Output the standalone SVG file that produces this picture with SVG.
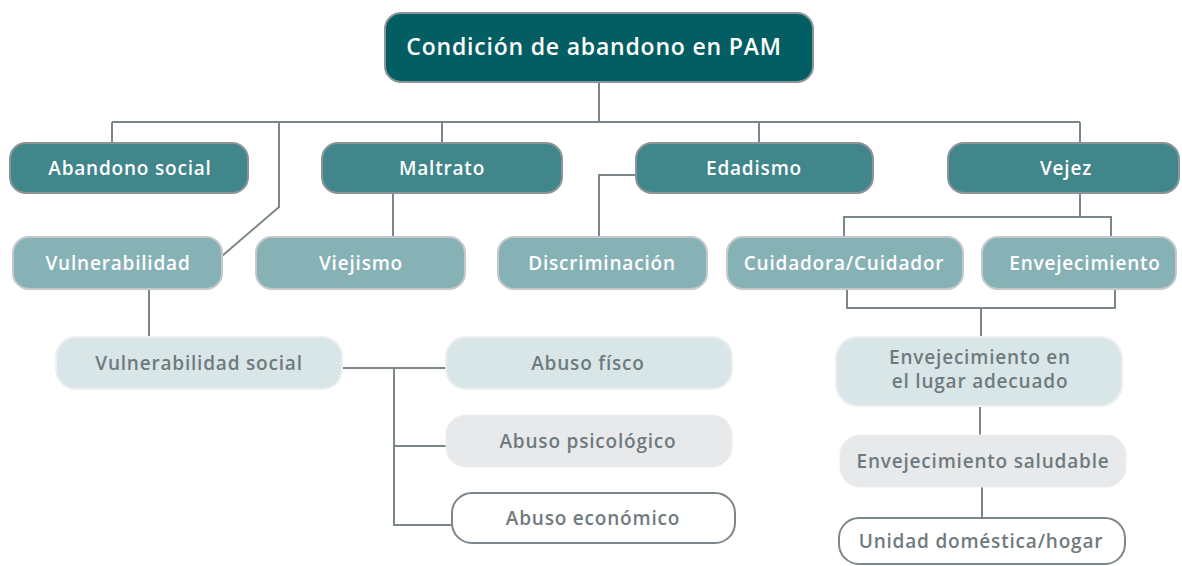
<svg xmlns="http://www.w3.org/2000/svg" width="1182" height="566" viewBox="0 0 1182 566">
<style>
text{font-family:"Open Sans","Noto Sans",sans-serif;font-weight:600;text-anchor:middle;letter-spacing:0.8px}
.top rect{fill:#035e63;stroke:#8c9498;stroke-width:2}
.top text{fill:#fff;font-size:23px}
.l1 rect{fill:#40868a;stroke:#8c9498;stroke-width:2}
.l1 text{fill:#fff;font-size:19px}
.l2 rect{fill:#86b1b5;stroke:#c4c8ca;stroke-width:2}
.l2 text{fill:#fff;font-size:19px}
.l3 rect{fill:#d9e6e8;stroke:#eceeef;stroke-width:2}
.l3g rect{fill:#e8e9eb;stroke:#eceeef;stroke-width:1}
.l3w rect{fill:#fff;stroke:#7d878b;stroke-width:2}
.l3 text,.l3g text,.l3w text{fill:#6f7a7e;font-size:19px}
#connectors{fill:none;stroke:#7b868b;stroke-width:2}
</style>
<g id="connectors">
<path d="M599 82V122M112 122H1080M112 122V143M442 122V143M759 122V143M1080 122V143"/>
<path d="M279 122V207L222 256"/>
<path d="M393 193V237"/>
<path d="M636 175H599V237"/>
<path d="M1080 193V217M844 237V217H1111V237"/>
<path d="M847 289V308H1115V289M981 308V337"/>
<path d="M149 289V337"/>
<path d="M342 368H446M394 368V525H452M394 446H446"/>
<path d="M980 406V435M982 487V518"/>
</g>
<g id="n-top" class="top"><rect x="385" y="13" width="428" height="69" rx="16"/><text x="594" y="55">Condición de abandono en PAM</text></g>
<g id="n-abandono" class="l1"><rect x="10" y="143" width="238" height="50" rx="16"/><text x="130" y="175">Abandono social</text></g>
<g id="n-maltrato" class="l1"><rect x="322" y="143" width="240" height="50" rx="16"/><text x="442" y="175">Maltrato</text></g>
<g id="n-edadismo" class="l1"><rect x="636" y="143" width="237" height="50" rx="16"/><text x="754" y="175">Edadismo</text></g>
<g id="n-vejez" class="l1"><rect x="948" y="143" width="231" height="50" rx="16"/><text x="1066" y="175">Vejez</text></g>
<g id="n-vulnerabilidad" class="l2"><rect x="13" y="237" width="209" height="52" rx="16"/><text x="118" y="270">Vulnerabilidad</text></g>
<g id="n-viejismo" class="l2"><rect x="256" y="237" width="209" height="52" rx="16"/><text x="361" y="270">Viejismo</text></g>
<g id="n-discriminacion" class="l2"><rect x="498" y="237" width="209" height="52" rx="16"/><text x="602" y="270">Discriminación</text></g>
<g id="n-cuidador" class="l2"><rect x="727" y="237" width="236" height="52" rx="16"/><text x="844" y="270">Cuidadora/Cuidador</text></g>
<g id="n-envejecimiento" class="l2"><rect x="982" y="237" width="194" height="52" rx="16"/><text x="1085" y="270">Envejecimiento</text></g>
<g id="n-vulsocial" class="l3"><rect x="56" y="337" width="286" height="52" rx="20"/><text x="199" y="370">Vulnerabilidad social</text></g>
<g id="n-fisico" class="l3"><rect x="446" y="337" width="286" height="52" rx="20"/><text x="588" y="370">Abuso físco</text></g>
<g id="n-psico" class="l3g"><rect x="446" y="415" width="286" height="52" rx="20"/><text x="588" y="448">Abuso psicológico</text></g>
<g id="n-economico" class="l3w"><rect x="452" y="493" width="283" height="50" rx="20"/><text x="593" y="525">Abuso económico</text></g>
<g id="n-lugar" class="l3"><rect x="836" y="337" width="286" height="69" rx="22"/><text x="980" y="364">Envejecimiento en</text><text x="980" y="388">el lugar adecuado</text></g>
<g id="n-saludable" class="l3g"><rect x="840" y="435" width="286" height="52" rx="20"/><text x="983" y="468">Envejecimiento saludable</text></g>
<g id="n-hogar" class="l3w"><rect x="839" y="518" width="286" height="46" rx="20"/><text x="981" y="548">Unidad doméstica/hogar</text></g>
</svg>
